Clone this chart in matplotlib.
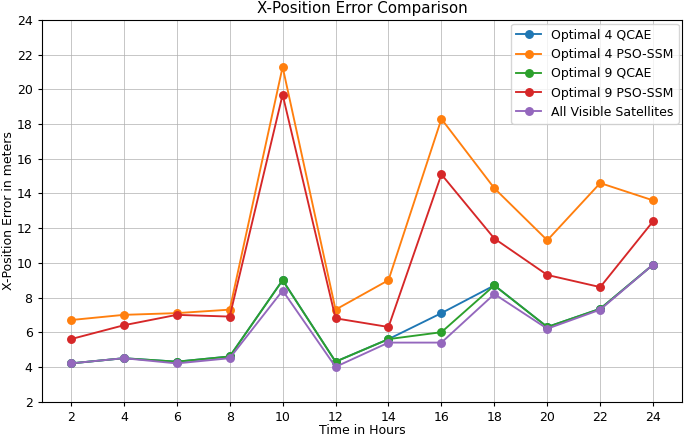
import matplotlib
matplotlib.use('Agg')
import matplotlib.pyplot as plt

hours = [2, 4, 6, 8, 10, 12, 14, 16, 18, 20, 22, 24]
opt4_qcae = [4.2, 4.5, 4.3, 4.6, 9.0, 4.3, 5.6, 7.1, 8.7, 6.3, 7.35, 9.9]
opt4_pso = [6.7, 7.0, 7.1, 7.3, 21.3, 7.3, 9.0, 18.3, 14.3, 11.3, 14.6, 13.6]
opt9_qcae = [4.2, 4.5, 4.3, 4.6, 9.0, 4.3, 5.6, 6.0, 8.7, 6.3, 7.35, 9.9]
opt9_pso = [5.6, 6.4, 7.0, 6.9, 19.7, 6.8, 6.3, 15.1, 11.4, 9.3, 8.6, 12.4]
all_visible = [4.2, 4.5, 4.2, 4.5, 8.4, 4.0, 5.4, 5.4, 8.2, 6.2, 7.3, 9.9]

s = 0.9  # reference looks like a slightly shrunk render
plt.rcParams['font.size'] = 10 * s
plt.rcParams['lines.linewidth'] = 1.5 * s
plt.rcParams['lines.markersize'] = 6 * s
plt.rcParams['xtick.major.size'] = 3.5 * s
plt.rcParams['ytick.major.size'] = 3.5 * s

fig = plt.figure(figsize=(6.85, 4.36), dpi=100)
ax = fig.add_axes([0.061, 0.079, 0.935, 0.875])
ax.plot(hours, opt4_qcae, marker='o', label='Optimal 4 QCAE')
ax.plot(hours, opt4_pso, marker='o', label='Optimal 4 PSO-SSM')
ax.plot(hours, opt9_qcae, marker='o', label='Optimal 9 QCAE')
ax.plot(hours, opt9_pso, marker='o', label='Optimal 9 PSO-SSM')
ax.plot(hours, all_visible, marker='o', label='All Visible Satellites')

ax.set_xticks(range(2, 25, 2))
ax.set_yticks(range(2, 25, 2))
ax.set_ylim(2, 24)
ax.set_xlabel('Time in Hours', labelpad=0)
ax.set_ylabel('X-Position Error in meters', labelpad=1.5)
ax.set_title('X-Position Error Comparison', fontsize=12 * s, pad=5)
ax.grid(True, color='#b0b0b0', alpha=0.7, linewidth=0.8 * s)
ax.legend(loc='upper right', borderaxespad=0.3)

plt.savefig('out.png', dpi=100)
